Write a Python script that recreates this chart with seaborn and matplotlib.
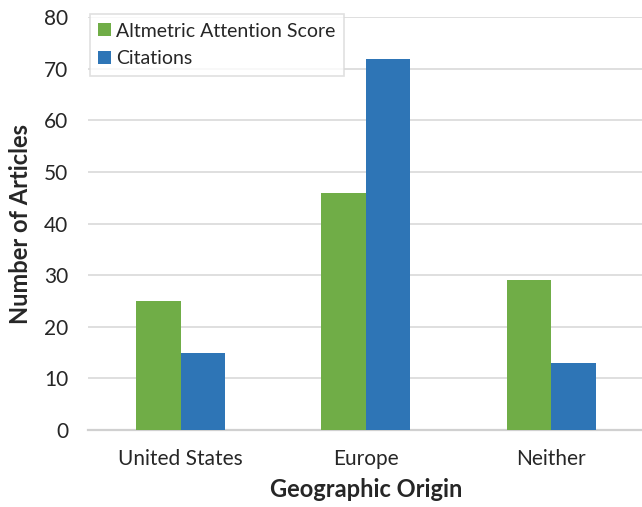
import matplotlib
matplotlib.use("Agg")
import matplotlib.pyplot as plt
import seaborn as sns
import pandas as pd

categories = ["United States", "Europe", "Neither"]
altmetric = [25, 46, 29]
citations = [15, 72, 13]
series_names = ["Altmetric Attention Score", "Citations"]
y_ticks = [0, 10, 20, 30, 40, 50, 60, 70, 80]

df = pd.DataFrame({
    "origin": categories * 2,
    "series": [series_names[0]] * 3 + [series_names[1]] * 3,
    "count": altmetric + citations,
})

sns.set_theme(style="white")
plt.rcParams["font.family"] = ["Lato", "DejaVu Sans"]

fig = plt.figure(figsize=(6.42, 5.07), dpi=100)
ax = fig.add_axes([0.137, 0.152, 0.866, 0.814])

palette = {series_names[0]: "#70AD47", series_names[1]: "#2E75B6"}
sns.barplot(data=df, x="origin", y="count", hue="series", palette=palette,
            width=0.48, saturation=1, linewidth=0, edgecolor="none",
            ax=ax, zorder=3)

ax.set_ylim(0, 80)
ax.set_yticks(y_ticks)
ax.yaxis.grid(True, color="#D9D9D9", linewidth=1.2, zorder=0)
ax.set_axisbelow(True)
for s in ["top", "right", "left"]:
    ax.spines[s].set_visible(False)
ax.spines["bottom"].set_color("#D0D0D0")
ax.spines["bottom"].set_linewidth(1.6)
ax.tick_params(axis="both", labelsize=15, colors="#262626", length=0)
ax.tick_params(axis="x", pad=14)
ax.tick_params(axis="y", pad=14)
ax.set_xlabel("Geographic Origin", fontsize=17, fontweight="bold", color="#262626", labelpad=6)
ax.set_ylabel("Number of Articles", fontsize=17, fontweight="bold", color="#262626", labelpad=9)
ax.set_xlim(-0.5, 2.5)

leg = ax.legend(loc="upper left", bbox_to_anchor=(0.003, 1.008), fontsize=14,
                frameon=True, fancybox=False, handlelength=0.65, handleheight=0.65,
                handletextpad=0.25, borderpad=0.45, labelspacing=0.55,
                borderaxespad=0)
leg.get_frame().set_edgecolor("#D9D9D9")
leg.get_frame().set_linewidth(1.2)
for t in leg.get_texts():
    t.set_color("#262626")

fig.savefig("out.png", dpi=100)
